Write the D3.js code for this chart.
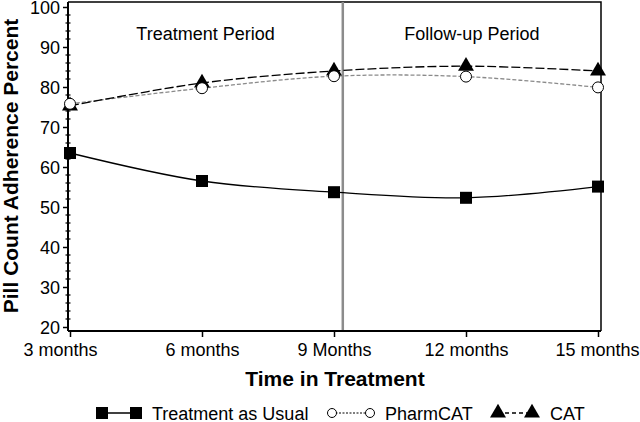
<!DOCTYPE html>
<html>
<head>
<meta charset="UTF-8" />
<title>Pill Count Adherence</title>
<script src="https://cdn.jsdelivr.net/npm/d3@7/dist/d3.min.js"></script>
<style>
    body { margin: 0; background: #fff; }
    text { font-family: Arial, "Liberation Sans", sans-serif; fill: #000; }
</style>
</head>
<body>
<div id="chart"></div>
<script>
    // data
    const months = [3, 6, 9, 12, 15];
    const monthLabels = ['3 months', '6 months', '9 Months', '12 months', '15 months'];
    const tau = [63.5, 56.5, 53.7, 52.3, 55.1];
    const pharmcat = [75.8, 79.7, 82.7, 82.6, 79.9];
    const cat = [75.3, 81.0, 84.0, 85.2, 84.0];
    const yTicks = [20, 30, 40, 50, 60, 70, 80, 90, 100];
    const periodSplit = 9.2;
    const periods = ['Treatment Period', 'Follow-up Period'];

    const w = 640, h = 422;
    const pLeft = 68, pRight = 601, pTop = 2, pBottom = 331;

    const x = d3.scaleLinear().domain([3, 15]).range([70, 598]);
    const y = d3.scaleLinear().domain([19, 101.25]).range([pBottom, pTop]);

    const svg = d3.select('#chart').append('svg')
        .attr('width', w)
        .attr('height', h);

    // frame (top, right)
    svg.append('path')
        .attr('d', `M${pLeft},${pTop}H${pRight}V${pBottom}`)
        .attr('fill', 'none')
        .attr('stroke', '#000')
        .attr('stroke-width', 1.5);

    // period divider
    svg.append('line')
        .attr('x1', x(periodSplit)).attr('x2', x(periodSplit))
        .attr('y1', pTop).attr('y2', pBottom)
        .attr('stroke', '#8c8c8c')
        .attr('stroke-width', 2.5);

    const xEnd = x.invert(pRight);
    const periodCenters = [(3 + periodSplit) / 2 - 0.02, (periodSplit + xEnd) / 2];
    svg.selectAll('.period')
        .data(periods)
        .enter()
        .append('text')
        .attr('class', 'period')
        .attr('x', (d, i) => x(periodCenters[i]))
        .attr('y', 40)
        .attr('text-anchor', 'middle')
        .style('font-size', '18px')
        .text(d => d);

    // y axis with minor ticks
    const yAxis = d3.axisLeft(y).tickValues(yTicks).tickSize(5).tickPadding(3);
    const gy = svg.append('g')
        .attr('transform', `translate(${pLeft},0)`)
        .call(yAxis);
    gy.select('.domain').attr('stroke-width', 2).attr('d', `M0,${pTop}V${pBottom}`);
    gy.selectAll('text').style('font-size', '18px').attr('dy', '0.35em');
    gy.selectAll('.tick line').attr('stroke-width', 1.5);

    const minor = d3.range(20, 101, 2).filter(v => v % 10 !== 0);
    svg.append('g').selectAll('line')
        .data(minor)
        .enter()
        .append('line')
        .attr('x1', pLeft - 2.5).attr('x2', pLeft + 2.5)
        .attr('y1', d => y(d)).attr('y2', d => y(d))
        .attr('stroke', '#000')
        .attr('stroke-width', 1.2);

    // x axis
    const xAxis = d3.axisBottom(x).tickValues(months)
        .tickFormat((d, i) => monthLabels[i])
        .tickSize(6).tickPadding(6);
    const gx = svg.append('g')
        .attr('transform', `translate(0,${pBottom})`)
        .call(xAxis);
    gx.select('.domain').attr('stroke-width', 2).attr('d', `M${pLeft},0H${pRight}`);
    gx.selectAll('.tick line').attr('stroke-width', 1.5);
    gx.selectAll('text').style('font-size', '18px')
        .attr('dx', (d, i) => i === 0 ? -10 : (i === months.length - 1 ? -1 : 0));

    // axis titles
    svg.append('text')
        .attr('x', 335)
        .attr('y', 386)
        .attr('text-anchor', 'middle')
        .style('font-size', '21px')
        .style('font-weight', 'bold')
        .text('Time in Treatment');

    svg.append('text')
        .attr('transform', 'translate(18,166) rotate(-90)')
        .attr('text-anchor', 'middle')
        .style('font-size', '21px')
        .style('font-weight', 'bold')
        .text('Pill Count Adherence Percent');

    // lines
    const line = d3.line()
        .x((d, i) => x(months[i]))
        .y(d => y(d))
        .curve(d3.curveCatmullRom.alpha(0.5));

    svg.append('path').attr('d', line(pharmcat))
        .attr('fill', 'none').attr('stroke', '#8a8a8a')
        .attr('stroke-width', 1.3).attr('stroke-dasharray', '4,2');
    svg.append('path').attr('d', line(cat))
        .attr('fill', 'none').attr('stroke', '#000')
        .attr('stroke-width', 1.3).attr('stroke-dasharray', '9,3');
    svg.append('path').attr('d', line(tau))
        .attr('fill', 'none').attr('stroke', '#000')
        .attr('stroke-width', 1.3);

    const tri = d3.symbol().type(d3.symbolTriangle).size(110);

    // markers
    svg.append('g').selectAll('rect')
        .data(tau)
        .enter()
        .append('rect')
        .attr('x', (d, i) => x(months[i]) - 6)
        .attr('y', d => y(d) - 6)
        .attr('width', 12).attr('height', 12)
        .attr('fill', '#000');

    svg.append('g').selectAll('path')
        .data(cat)
        .enter()
        .append('path')
        .attr('d', tri)
        .attr('transform', (d, i) => `translate(${x(months[i])},${y(d)})`)
        .attr('fill', '#000');

    svg.append('g').selectAll('circle')
        .data(pharmcat)
        .enter()
        .append('circle')
        .attr('cx', (d, i) => x(months[i]))
        .attr('cy', d => y(d))
        .attr('r', 5.5)
        .attr('fill', '#fff')
        .attr('stroke', '#000')
        .attr('stroke-width', 1);

    // legend
    const ly = 413;
    const lg = svg.append('g');
    lg.append('line').attr('x1', 102).attr('x2', 136).attr('y1', ly).attr('y2', ly)
        .attr('stroke', '#000').attr('stroke-width', 1.3);
    lg.selectAll('.lsq').data([102, 136]).enter().append('rect')
        .attr('x', d => d - 6).attr('y', ly - 6).attr('width', 12).attr('height', 12)
        .attr('fill', '#000');
    lg.append('text').attr('x', 152).attr('y', ly + 6.5).style('font-size', '18px')
        .text('Treatment as Usual');

    lg.append('line').attr('x1', 332).attr('x2', 370).attr('y1', ly).attr('y2', ly)
        .attr('stroke', '#000').attr('stroke-width', 1).attr('stroke-dasharray', '2,1.5');
    lg.selectAll('.lci').data([332, 370]).enter().append('circle')
        .attr('cx', d => d).attr('cy', ly).attr('r', 4.5)
        .attr('fill', '#fff').attr('stroke', '#000');
    lg.append('text').attr('x', 385).attr('y', ly + 6.5).style('font-size', '18px')
        .text('PharmCAT');

    lg.append('line').attr('x1', 498).attr('x2', 532).attr('y1', ly).attr('y2', ly)
        .attr('stroke', '#000').attr('stroke-width', 1.3).attr('stroke-dasharray', '4,3');
    lg.selectAll('.ltr').data([498, 532]).enter().append('path')
        .attr('d', tri)
        .attr('transform', d => `translate(${d},${ly})`)
        .attr('fill', '#000');
    lg.append('text').attr('x', 550).attr('y', ly + 6.5).style('font-size', '18px')
        .text('CAT');
</script>
</body>
</html>
